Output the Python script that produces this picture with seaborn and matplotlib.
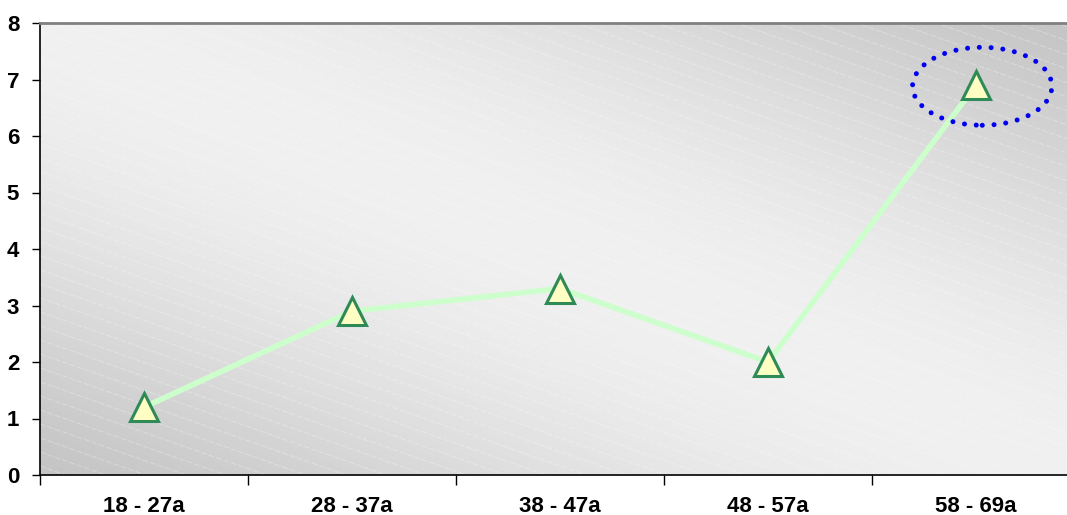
import numpy as np
import pandas as pd
import matplotlib
matplotlib.use("Agg")
import matplotlib.pyplot as plt
from matplotlib.patches import Ellipse
from matplotlib.ticker import FixedLocator, NullFormatter, FixedFormatter
import seaborn as sns

# Data
age_groups = ["18 - 27a", "28 - 37a", "38 - 47a", "48 - 57a", "58 - 69a"]
scores = [1.2, 2.9, 3.3, 2.0, 6.9]
y_ticks = [0, 1, 2, 3, 4, 5, 6, 7, 8]

sns.set_theme(style="white")
plt.rcParams["font.family"] = ["Liberation Sans", "DejaVu Sans"]
plt.rcParams["font.weight"] = "bold"

fig = plt.figure(figsize=(10.67, 5.15), dpi=100)
ax = fig.add_axes([40 / 1067, 40 / 515, 1040 / 1067, 452 / 515])

# Diagonal grey gradient background (dark corners, light middle band)
n = 300
u = np.linspace(0, 1, n)
U, V = np.meshgrid(u, u)
t = (U + V) / 2.0
shade = 0.77 + 0.17 * np.sin(np.pi * t) ** 1.3
ax.imshow(shade, extent=[0, 1, 0, 1], transform=ax.transAxes, origin="lower",
          cmap="gray", vmin=0, vmax=1, aspect="auto", zorder=0,
          interpolation="bilinear")

# Faint dashed diagonal hatch lines
aspect = 1040 / 452
for off in np.arange(-0.6, 1.8, 0.031):
    xs = np.array([0.0, 1.0])
    ys = off - 0.35 * xs * aspect
    ax.plot(xs, ys, transform=ax.transAxes, color="white", lw=0.7,
            ls=(0, (6, 2)), alpha=0.3, zorder=0.5, clip_on=True)

df = pd.DataFrame({"group": age_groups, "score": scores})
sns.lineplot(data=df, x="group", y="score", ax=ax, color="#ccffcc", lw=4,
             marker="^", markersize=20, markerfacecolor="#ffffc4",
             markeredgecolor="#2e8b57", markeredgewidth=2.2, zorder=3,
             sort=False)

# Highlight the last group
last = len(scores) - 1
ax.add_patch(Ellipse((last + 0.03, scores[-1] - 0.02), width=0.67, height=1.38,
                     fill=False, edgecolor="#0000ee", lw=3.6,
                     linestyle=(0, (0.01, 2.35)), capstyle="round", zorder=4))

ax.set_xlim(-0.5, len(age_groups) - 0.5)
ax.set_ylim(0, 8)
ax.set_xlabel("")
ax.set_ylabel("")

# Ticks at category boundaries, labels centred in each category
ax.xaxis.set_major_locator(FixedLocator(np.arange(-0.5, len(age_groups), 1.0)))
ax.xaxis.set_major_formatter(NullFormatter())
ax.xaxis.set_minor_locator(FixedLocator(np.arange(len(age_groups))))
ax.xaxis.set_minor_formatter(FixedFormatter(age_groups))
ax.tick_params(axis="x", which="major", length=7, width=1, color="black",
               direction="out", bottom=True)
ax.tick_params(axis="x", which="minor", length=0, pad=15, labelsize=16,
               labelcolor="black")
for lbl in ax.xaxis.get_minorticklabels():
    lbl.set_fontweight("bold")

ax.set_yticks(y_ticks)
ax.set_yticklabels([str(v) for v in y_ticks], fontweight="bold")
ax.tick_params(axis="y", length=6, width=1, color="black", direction="out",
               left=True, pad=9, labelsize=16, labelcolor="black")

ax.grid(False)
ax.spines["left"].set_color("black")
ax.spines["left"].set_linewidth(1.2)
ax.spines["bottom"].set_color("black")
ax.spines["bottom"].set_linewidth(1.2)
ax.spines["top"].set_color("#808080")
ax.spines["top"].set_linewidth(2.0)
ax.spines["right"].set_visible(False)

fig.savefig("out.png", dpi=100, facecolor="white")
